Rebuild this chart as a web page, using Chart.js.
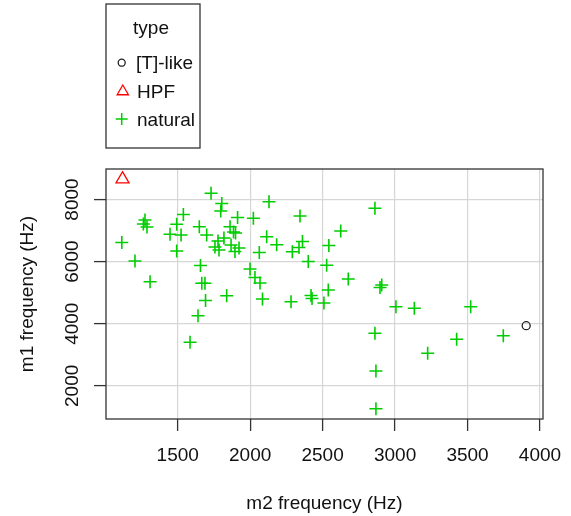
<!DOCTYPE html>
<html>
<head>
<meta charset="utf-8">
<script src="https://cdn.jsdelivr.net/npm/chart.js@4.4.0/dist/chart.umd.min.js"></script>
<style>
html, body { margin: 0; padding: 0; background: #fff; }
</style>
</head>
<body>
<canvas id="myChart" width="571" height="516"></canvas>
<script>
// legend categories
const types = ['[T]-like', 'HPF', 'natural'];

// m2 (x) and m1 (y) frequencies, Hz
const tlikeM2 = [3905];
const tlikeM1 = [3936];
const hpfM2 = [1119];
const hpfM1 = [8654];
const naturalM2 = [1730, 1804, 1797, 2130, 1539, 2344, 1274, 1263, 1288, 1493,
    1913, 2022, 1649, 1861, 1885, 1899, 1447, 1523, 1700, 1114,
    2114, 2183, 2361, 2543, 1778, 1819, 1757, 1785, 1868, 1923,
    1895, 2063, 2291, 2337, 2401, 2528, 1493, 1205, 1657, 1999,
    2033, 2068, 1309, 1666, 1688, 1692, 1640, 1585, 1838, 2085,
    2282, 2420, 2427, 2539, 2509, 2861, 2625, 2677, 2908, 2896,
    3006, 3133, 3522, 2861, 3425, 3747, 3225, 2868, 2868];
const naturalM1 = [8200, 7871, 7630, 7929, 7517, 7469, 7340, 7211, 7115, 7201,
    7420, 7395, 7124, 7124, 6954, 6921, 6879, 6857, 6857, 6615,
    6802, 6545, 6648, 6519, 6664, 6760, 6471, 6374, 6535, 6438,
    6326, 6293, 6319, 6454, 6004, 5881, 6342, 6020, 5875, 5762,
    5488, 5311, 5353, 5302, 5302, 4748, 4258, 3402, 4902, 4796,
    4709, 4909, 4812, 5086, 4667, 7717, 6986, 5440, 5247, 5166,
    4548, 4497, 4548, 3692, 3498, 3614, 3048, 2478, 1264];

// tick labels
const xTicks = [1500, 2000, 2500, 3000, 3500, 4000];
const yTicks = [2000, 4000, 6000, 8000];

const FONT = '"Liberation Sans", Arial, sans-serif';
const colTlike = '#222222';
const colHpf = '#ff0000';
const colNatural = '#00cd00';

function pts(xs, ys) {
    return xs.map((x, i) => ({ x: x, y: ys[i] }));
}

function symbol(c, style, x, y, r, color) {
    c.beginPath();
    c.strokeStyle = color;
    if (style === 'circle') {
        c.arc(x, y, r, 0, Math.PI * 2);
    } else if (style === 'triangle') {
        c.moveTo(x, y - r);
        c.lineTo(x + r * Math.sin(Math.PI * 2 / 3), y - r * Math.cos(Math.PI * 2 / 3));
        c.lineTo(x + r * Math.sin(Math.PI * 4 / 3), y - r * Math.cos(Math.PI * 4 / 3));
        c.closePath();
    } else {
        c.moveTo(x - r, y); c.lineTo(x + r, y);
        c.moveTo(x, y - r); c.lineTo(x, y + r);
    }
    c.stroke();
}

// box round the plot + the legend in the top left
const boxAndLegend = {
    id: 'boxAndLegend',
    afterDraw(chart) {
        const c = chart.ctx;
        const a = chart.chartArea;
        c.save();
        c.strokeStyle = '#333';
        c.lineWidth = 1.3;
        c.strokeRect(a.left, a.top, a.right - a.left, a.bottom - a.top);

        c.strokeRect(106, 4, 94, 144);
        c.fillStyle = '#111';
        c.font = '19px ' + FONT;
        c.textBaseline = 'middle';
        c.textAlign = 'center';
        c.fillText('type', 151, 29);
        c.textAlign = 'left';
        c.fillText(types[0], 136, 64);
        c.fillText(types[1], 137, 92.5);
        c.fillText(types[2], 137, 121);

        c.lineWidth = 1.3;
        symbol(c, 'circle', 121.7, 62.7, 3.5, colTlike);
        symbol(c, 'triangle', 122.8, 91.5, 6.5, colHpf);
        c.lineWidth = 1.5;
        symbol(c, 'cross', 121.7, 119, 6, colNatural);
        c.restore();
    }
};

const ctx = document.getElementById('myChart');
const chart = new Chart(ctx, {
    type: 'scatter',
    data: {
        datasets: [{
            label: types[0],
            data: pts(tlikeM2, tlikeM1),
            pointStyle: 'circle',
            pointRadius: 4,
            borderColor: colTlike,
            backgroundColor: 'rgba(0,0,0,0)',
            pointBorderWidth: 1.3
        }, {
            label: types[1],
            data: pts(hpfM2, hpfM1),
            pointStyle: 'triangle',
            pointRadius: 7.5,
            borderColor: colHpf,
            backgroundColor: 'rgba(0,0,0,0)',
            pointBorderWidth: 1.3
        }, {
            label: types[2],
            data: pts(naturalM2, naturalM1),
            pointStyle: 'cross',
            pointRadius: 6.5,
            borderColor: colNatural,
            backgroundColor: 'rgba(0,0,0,0)',
            pointBorderWidth: 1.6
        }]
    },
    options: {
        responsive: false,
        animation: false,
        events: [],
        layout: { padding: { left: 0, top: 169, right: 28, bottom: 0 } },
        plugins: {
            legend: { display: false },
            tooltip: { enabled: false }
        },
        scales: {
            x: {
                type: 'linear',
                min: 1005,
                max: 4021,
                afterBuildTicks: (scale) => { scale.ticks = xTicks.map(v => ({ value: v })); },
                afterFit: (scale) => {
                    scale.height = 97;
                    scale.paddingLeft = 0;
                    scale.paddingRight = 0;
                },
                grid: { color: '#d6d6d6', lineWidth: 1.2, tickColor: '#333', tickLength: 12, tickWidth: 1.3 },
                border: { display: false },
                ticks: {
                    autoSkip: false,
                    maxRotation: 0,
                    padding: 13,
                    color: '#111',
                    font: { family: FONT, size: 19 },
                    callback: (v) => String(v)
                },
                title: {
                    display: true,
                    text: 'm2 frequency (Hz)',
                    color: '#111',
                    font: { family: FONT, size: 19 },
                    padding: { top: 0, bottom: 1 }
                }
            },
            y: {
                type: 'linear',
                min: 932,
                max: 8982,
                afterBuildTicks: (scale) => { scale.ticks = yTicks.map(v => ({ value: v })); },
                afterFit: (scale) => {
                    scale.width = 106;
                    scale.paddingTop = 0;
                    scale.paddingBottom = 0;
                },
                grid: { color: '#d6d6d6', lineWidth: 1.2, tickColor: '#333', tickLength: 12, tickWidth: 1.3 },
                border: { display: false },
                ticks: {
                    autoSkip: false,
                    minRotation: 90,
                    maxRotation: 90,
                    crossAlign: 'center',
                    padding: 0,
                    color: '#111',
                    font: { family: FONT, size: 19 },
                    callback: (v) => String(v)
                },
                title: {
                    display: true,
                    text: 'm1 frequency (Hz)',
                    color: '#111',
                    font: { family: FONT, size: 19 },
                    padding: { top: 16, bottom: 0 }
                }
            }
        }
    },
    plugins: [boxAndLegend]
});
</script>
</body>
</html>
